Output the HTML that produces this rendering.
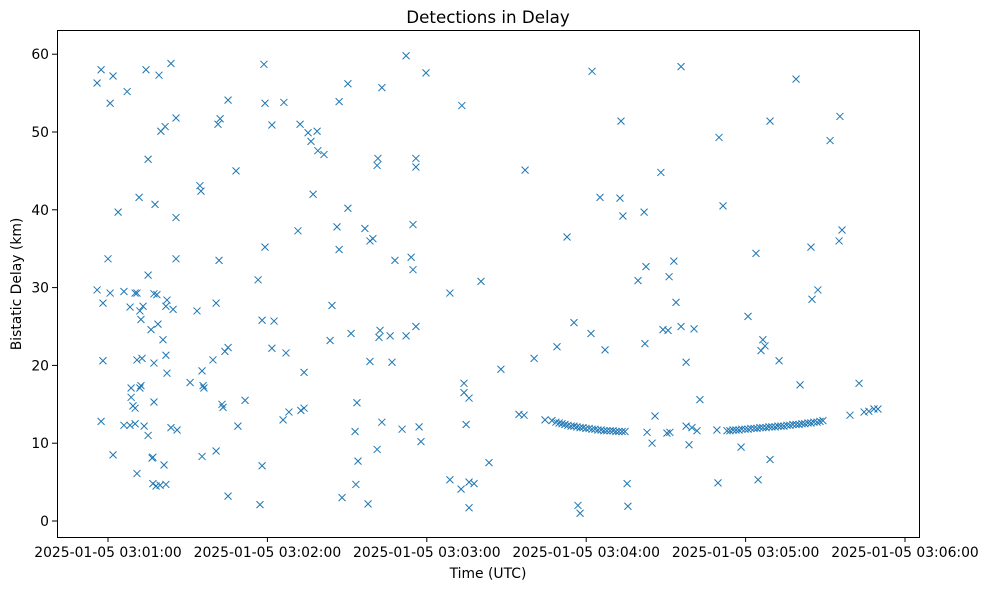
<!DOCTYPE html>
<html><head><meta charset="utf-8"><style>
html,body{margin:0;padding:0;background:#fff;}
svg{display:block;font-family:"DejaVu Sans","Liberation Sans",sans-serif;}
</style></head><body>
<svg id="chart" width="988" height="590">
<rect x="0" y="0" width="988" height="590" fill="#fff"/>
<text x="488" y="23" text-anchor="middle" font-size="16.7">Detections in Delay</text>
<g id="marks"></g>
<g id="axes"></g>
<rect x="57.5" y="30.5" width="862" height="507" fill="none" stroke="#000" stroke-width="1"/>
<text x="488" y="578" text-anchor="middle" font-size="13.9">Time (UTC)</text>
<text x="21" y="284" text-anchor="middle" font-size="13.9" transform="rotate(-90 21 284)">Bistatic Delay (km)</text>
</svg>
<script>
// seconds after 2025-01-05 03:00:00 UTC
const xTickSeconds = [60,120,180,240,300,360];
const xTickLabels = ["2025-01-05 03:01:00","2025-01-05 03:02:00","2025-01-05 03:03:00","2025-01-05 03:04:00","2025-01-05 03:05:00","2025-01-05 03:06:00"];
const yTicks = [0,10,20,30,40,50,60];
const scatterDetections = [
[55.9,56.3],[57.4,58],[55.9,29.7],[58.1,28],[57.4,12.8],[58.1,20.6],[60.0,33.7],[60.8,53.7],[60.8,29.3],[61.9,57.2],[61.9,8.5],[63.8,39.7],[66.0,29.5],[67.2,55.2],[66.0,12.3],[68.3,27.5],[68.3,12.3],[68.7,17.1],[68.7,15.9],[69.4,14.8],[70.2,29.3],[70.2,12.5],[70.2,14.5],[70.9,29.3],[70.9,20.7],[70.9,6.1],[71.7,41.6],[72.0,27],[72.0,17.1],[72.4,17.4],[72.4,25.9],[72.8,20.9],[73.2,27.6],[73.6,12.2],[74.3,58],[75.1,46.5],[75.1,31.6],[75.1,11],[76.2,24.6],[76.6,8.1],[76.9,8.2],[76.9,4.8],[77.3,29.2],[77.3,20.3],[77.3,15.3],[77.7,40.7],[78.1,4.5],[78.4,29.1],[78.8,25.3],[79.2,57.3],[79.6,4.6],[79.9,50.1],[80.7,23.3],[81.1,7.2],[81.5,50.7],[81.8,4.7],[81.8,27.6],[81.8,21.3],[82.2,28.4],[82.2,19],[83.7,58.8],[83.7,12],[84.5,27.2],[85.6,51.8],[85.6,39],[85.6,33.7],[86.0,11.7],
[90.9,17.8],[93.5,27],[94.6,43.1],[95.0,42.4],[95.4,19.3],[95.4,8.3],[95.8,17.4],[96.1,17.1],[99.5,20.7],[100.7,28],[100.7,9],[101.4,51],[101.8,33.5],[102.2,51.7],[102.9,15],[103.3,14.6],[104.0,21.8],[105.2,54.1],[105.2,22.3],[105.2,3.2],[108.2,45],[108.9,12.2],[111.6,15.5],[116.5,31],[117.2,2.1],[118.0,7.1],[118.0,25.8],[118.7,58.7],[119.1,53.7],[119.1,35.2],[121.7,50.9],[121.7,22.2],[122.5,25.7],[125.9,13],[126.2,53.8],[127.0,21.6],[128.1,14],[131.5,37.3],[132.3,51],[132.6,14.2],[133.8,19.1],[133.8,14.5],[135.3,49.9],[136.4,48.8],[137.2,42],[138.7,50.1],[139.0,47.6],[141.3,47.1],[143.6,23.2],[144.3,27.7],[146.2,37.8],[147.0,53.9],[147.0,34.9],[148.1,3],[150.3,40.2],[150.3,56.2],[151.5,24.1],[153.0,11.5],[153.3,4.7],[153.7,15.2],[154.1,7.7],[156.7,37.6],[157.9,2.2],[158.6,20.5],[158.6,36],[159.7,36.3],[161.3,9.2],[161.3,45.7],[161.6,46.6],[162.0,23.6],[162.4,24.5],[163.1,55.7],[163.1,12.7],[166.2,23.8],[166.9,20.4],[168.0,33.5],[170.7,11.8],[172.2,59.8],[172.2,23.8],[174.1,33.9],[174.8,38.1],[174.8,32.3],[175.9,46.6],[175.9,45.5],[175.9,25],[177.1,12.1],[177.8,10.2],[179.7,57.6],
[188.7,29.3],[188.7,5.3],[192.9,4.1],[193.2,53.4],[194.0,17.7],[194.0,16.5],[194.8,12.4],[195.9,5],[195.9,15.8],[195.9,1.7],[197.8,4.8],[200.4,30.8],[203.4,7.5],[207.9,19.5],[214.7,13.7],[216.6,13.6],[217.0,45.1],[220.4,20.9],
[229.0,22.4],[232.8,36.5],[235.4,25.5],[236.9,2],[237.7,1],[241.8,24.1],[242.2,57.8],[245.2,41.6],[247.1,22],[252.7,41.5],[253.1,51.4],[253.8,39.2],[255.4,4.8],[255.7,1.9],[259.5,30.9],[261.8,39.7],[262.1,22.8],[262.5,32.7],[262.9,11.4],[264.8,10],[265.9,13.5],[268.1,44.8],[268.9,24.6],[270.4,11.3],[270.8,24.5],[271.2,31.4],[271.5,11.4],[273.0,33.4],[273.8,28.1],[275.7,58.4],[275.7,25],[277.6,20.4],[277.6,12.2],[278.7,9.8],[279.8,12],[280.6,24.7],[281.7,11.6],[282.8,15.6],[289.2,11.7],[289.6,4.9],[290.0,49.3],[291.5,40.5],[298.3,9.5],[300.9,26.3],[303.9,34.4],[304.7,5.3],[305.8,21.9],[306.5,23.3],[307.3,22.5],[309.2,51.4],[309.2,7.9],[312.6,20.6],[319.0,56.8],[320.5,17.5],[324.6,35.2],[325.0,28.5],[327.2,29.7],[331.8,48.9],[335.2,36],[335.5,52],[336.3,37.4],[339.3,13.6],[342.7,17.7],[344.6,14],[346.4,14.1],[348.3,14.4],[349.8,14.4]
];
const trackATimes = [224.5,227.1,228.6,229.8,230.9,232.0,233.1,234.3,235.4,236.5,237.7,238.8,239.9,241.1,242.2,243.3,244.4,245.6,246.7,247.8,249.0,250.1,251.2,252.3,253.5,254.6];
const trackADelays = [13,12.9,12.7,12.6,12.5,12.4,12.3,12.2,12.2,12.1,12,12,11.9,11.9,11.8,11.8,11.7,11.7,11.6,11.6,11.6,11.6,11.5,11.5,11.5,11.5];
const trackBTimes = [293.0,294.1,295.3,296.4,297.5,298.6,299.8,300.9,302.0,303.2,304.3,305.4,306.5,307.7,308.8,309.9,311.1,312.2,313.3,314.4,315.6,316.7,317.8,319.0,320.1,321.2,322.3,323.5,324.6,325.7,326.9,328.0,329.1];
const trackBDelays = [11.6,11.6,11.7,11.7,11.7,11.8,11.8,11.8,11.9,11.9,11.9,12.0,12.0,12.0,12.1,12.1,12.1,12.2,12.2,12.2,12.3,12.3,12.4,12.4,12.4,12.5,12.5,12.6,12.6,12.7,12.7,12.8,12.9];

const NS = "http://www.w3.org/2000/svg";
function xScale(t){ return 108 + (t - 60) * (797/300); }
function yScale(d){ return 521 - d * 7.78; }
const marks = document.getElementById('marks');
const axes = document.getElementById('axes');
function drawX(t, d){
  const cx = xScale(t), cy = yScale(d), r = 3.5;
  const p = document.createElementNS(NS,'path');
  p.setAttribute('d', `M${cx-r},${cy-r}L${cx+r},${cy+r}M${cx-r},${cy+r}L${cx+r},${cy-r}`);
  p.setAttribute('stroke','#1f77b4');
  p.setAttribute('stroke-width','1');
  p.setAttribute('fill','none');
  
  
  marks.appendChild(p);
}
scatterDetections.forEach(p => drawX(p[0], p[1]));
trackATimes.forEach((t,i) => drawX(t, trackADelays[i]));
trackBTimes.forEach((t,i) => drawX(t, trackBDelays[i]));

xTickSeconds.forEach((t,i) => {
  const x = xScale(t);
  const l = document.createElementNS(NS,'line');
  l.setAttribute('x1',x); l.setAttribute('x2',x); l.setAttribute('y1',537); l.setAttribute('y2',542);
  l.setAttribute('stroke','#000');
  
  
  axes.appendChild(l);
  const tx = document.createElementNS(NS,'text');
  tx.setAttribute('x',x); tx.setAttribute('y',557);
  tx.setAttribute('text-anchor','middle'); tx.setAttribute('font-size','13.9');
  tx.textContent = xTickLabels[i];
  
  
  axes.appendChild(tx);
});
yTicks.forEach(v => {
  const y = yScale(v);
  const l = document.createElementNS(NS,'line');
  l.setAttribute('x1',52); l.setAttribute('x2',57); l.setAttribute('y1',y); l.setAttribute('y2',y);
  l.setAttribute('stroke','#000');
  
  
  axes.appendChild(l);
  const tx = document.createElementNS(NS,'text');
  tx.setAttribute('x',49); tx.setAttribute('y',y+5);
  tx.setAttribute('text-anchor','end'); tx.setAttribute('font-size','13.9');
  tx.textContent = String(v);
  
  
  axes.appendChild(tx);
});
</script>
</body></html>
